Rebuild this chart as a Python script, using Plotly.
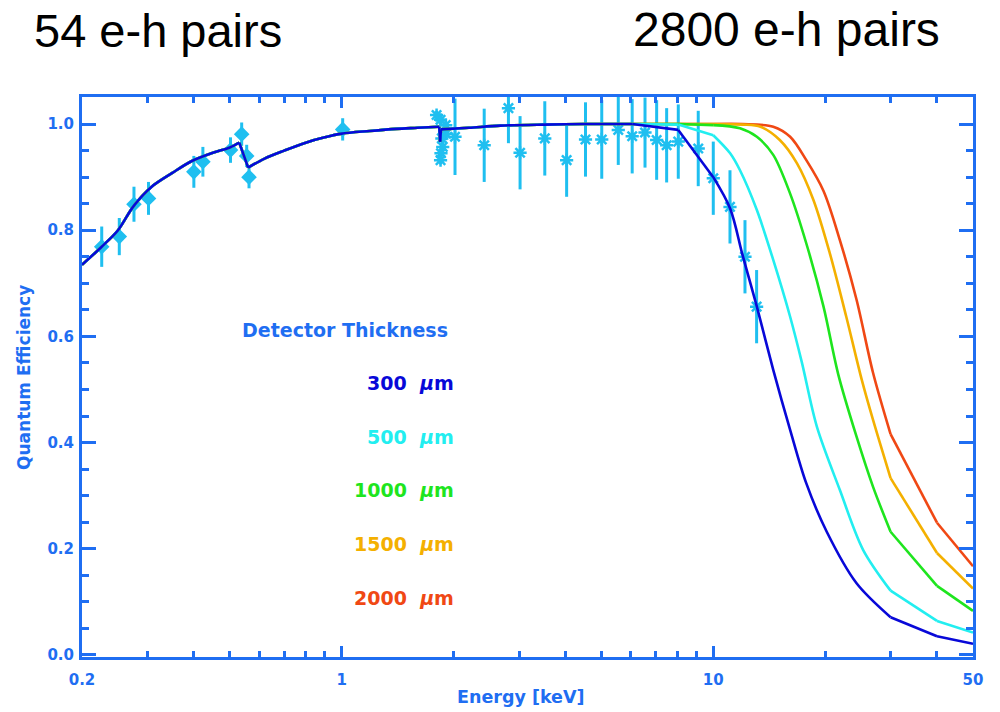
import plotly.graph_objects as go

# ---- model curves: quantum efficiency vs photon energy (keV) ----
# common low-energy response (entrance window), identical for all thicknesses
e_low = [0.2, 0.226, 0.25, 0.275, 0.308, 0.35, 0.394, 0.45, 0.50, 0.53, 0.56,
         0.62, 0.70, 0.80, 0.90, 1.0, 1.19, 1.4, 1.6, 1.83, 1.84, 1.85, 2.2,
         2.67, 3.5, 4.5]
qe_low = [0.735, 0.769, 0.80, 0.845, 0.882, 0.908, 0.930, 0.946, 0.956, 0.965,
          0.918, 0.935, 0.950, 0.965, 0.975, 0.982, 0.987, 0.991, 0.993, 0.995,
          0.967, 0.990, 0.993, 0.997, 0.999, 1.0]

# high-energy roll-off for each depletion depth
e_300 = [6.05, 8.05, 10.0, 11.1, 12.0, 13.1, 14.5, 16.1, 17.8, 20.2, 24.3,
         30.0, 40.0, 50.0]
qe_300 = [1.0, 0.989, 0.900, 0.841, 0.752, 0.656, 0.537, 0.424, 0.323, 0.232,
          0.135, 0.071, 0.035, 0.021]

e_500 = [6.05, 8.05, 10.0, 11.1, 11.8, 13.1, 14.5, 16.1, 17.3, 19.0, 21.9,
         25.3, 30.0, 40.0, 50.0]
qe_500 = [1.0, 0.999, 0.979, 0.945, 0.913, 0.838, 0.744, 0.637, 0.552, 0.430,
          0.311, 0.198, 0.121, 0.064, 0.042]

e_1000 = [6.05, 8.05, 10.0, 11.8, 13.1, 14.5, 16.1, 17.8, 19.8, 21.7, 24.3,
          26.9, 30.0, 40.0, 50.0]
qe_1000 = [1.0, 1.0, 0.998, 0.992, 0.976, 0.942, 0.869, 0.775, 0.656, 0.528,
           0.411, 0.317, 0.232, 0.130, 0.083]

e_1500 = [6.05, 8.05, 10.0, 12.0, 13.4, 15.1, 16.8, 18.6, 20.6, 22.8, 25.1,
          26.9, 30.0, 40.0, 50.0]
qe_1500 = [1.0, 1.0, 1.0, 0.999, 0.995, 0.970, 0.926, 0.857, 0.756, 0.637,
           0.518, 0.443, 0.333, 0.192, 0.125]

e_2000 = [6.05, 8.05, 10.0, 12.0, 14.5, 16.1, 17.8, 19.8, 21.9, 24.3, 26.9,
          30.0, 40.0, 50.0]
qe_2000 = [1.0, 1.0, 1.0, 1.0, 0.995, 0.976, 0.932, 0.874, 0.782, 0.669,
           0.532, 0.416, 0.249, 0.167]

# energies where the model has a sharp corner (absorption edges, coarse grid)
corner_energies = [0.53, 0.56, 1.83, 1.84, 1.85, 6.05, 8.05, 10.0, 30.0, 40.0]

# ---- measurements ----
# low-energy calibration points
e_lo_meas = [0.226, 0.252, 0.276, 0.302, 0.400, 0.423, 0.502, 0.538, 0.555,
             0.563, 1.006]
qe_lo_meas = [0.769, 0.788, 0.849, 0.860, 0.910, 0.929, 0.951, 0.981, 0.940,
              0.900, 0.990]
err_lo_meas = [0.038, 0.035, 0.033, 0.031, 0.030, 0.028, 0.024, 0.022, 0.021,
               0.021, 0.021]

# higher-energy points
e_hi_meas = [1.80, 1.845, 1.905, 1.91, 1.86, 1.87, 1.85, 1.845,
             2.018, 2.418, 2.81, 3.02, 3.52, 4.03, 4.53, 5.01, 5.55, 6.05,
             6.55, 7.04, 7.49, 8.05, 9.11, 10.0, 11.09, 12.17, 13.08]
qe_hi_meas = [1.017, 1.008, 0.998, 0.982, 0.973, 0.957, 0.945, 0.932,
              0.976, 0.960, 1.030, 0.946, 0.973, 0.932, 0.971, 0.971, 0.989,
              0.977, 0.984, 0.970, 0.960, 0.967, 0.954, 0.898, 0.844, 0.750,
              0.656]
err_hi_meas = [0.008, 0.008, 0.008, 0.008, 0.008, 0.008, 0.008, 0.008,
               0.072, 0.069, 0.066, 0.069, 0.070, 0.069, 0.070, 0.074, 0.066,
               0.070, 0.066, 0.075, 0.070, 0.070, 0.071, 0.069, 0.069, 0.069,
               0.069]

thickness_labels = ["300", "500", "1000", "1500", "2000"]

AXIS_BLUE = "#1f6ef2"
DATA_CYAN = "#1fbff0"
curve_colors = {
    "300": "#0808d8",
    "500": "#22eef0",
    "1000": "#1ee51e",
    "1500": "#f4b000",
    "2000": "#f04814",
}
curves = {
    "300": (e_300, qe_300),
    "500": (e_500, qe_500),
    "1000": (e_1000, qe_1000),
    "1500": (e_1500, qe_1500),
    "2000": (e_2000, qe_2000),
}


def split_at_corners(xs, ys):
    """Cut a curve into pieces that are smooth between the corner energies."""
    pieces = []
    start = 0
    for i, x in enumerate(xs):
        if i > start and (x in corner_energies or i == len(xs) - 1):
            pieces.append((xs[start:i + 1], ys[start:i + 1]))
            start = i
    return pieces


fig = go.Figure()

# measured points (drawn underneath the model curves)
fig.add_trace(go.Scatter(
    x=e_lo_meas, y=qe_lo_meas, mode="markers",
    marker=dict(symbol="diamond", size=12, color=DATA_CYAN),
    error_y=dict(type="data", array=err_lo_meas, color=DATA_CYAN,
                 thickness=3, width=0),
    showlegend=False,
))
fig.add_trace(go.Scatter(
    x=e_hi_meas, y=qe_hi_meas, mode="markers",
    marker=dict(symbol="asterisk-open", size=11, color=DATA_CYAN,
                line=dict(color=DATA_CYAN, width=2.5)),
    error_y=dict(type="data", array=err_hi_meas, color=DATA_CYAN,
                 thickness=3, width=0),
    showlegend=False,
))

# model curves, thickest first so the thinner ones sit on top
for lab in reversed(thickness_labels):
    e_hi, qe_hi = curves[lab]
    for xs, ys in split_at_corners(e_low + e_hi, qe_low + qe_hi):
        fig.add_trace(go.Scatter(
            x=xs, y=ys, mode="lines",
            line=dict(color=curve_colors[lab], width=2.6, shape="spline",
                      smoothing=0.9),
            showlegend=False, hoverinfo="skip",
        ))

# ---- axes ----
x_major = [0.2, 1, 10, 50]
x_major_text = ["0.2", "1", "10", "50"]
x_minor = [0.3, 0.4, 0.5, 0.6, 0.7, 0.8, 0.9,
           2, 3, 4, 5, 6, 7, 8, 9, 20, 30, 40]

tick_font = dict(family="DejaVu Sans", size=15, color=AXIS_BLUE, weight="bold")

fig.update_xaxes(
    type="log", range=[-0.69897, 1.69897],
    tickmode="array", tickvals=x_major, ticktext=x_major_text,
    ticks="inside", ticklen=11, tickwidth=2.5, tickcolor=AXIS_BLUE,
    ticklabelstandoff=7,
    minor=dict(tickmode="array", tickvals=x_minor, ticks="inside",
               ticklen=6, tickwidth=2.5, tickcolor=AXIS_BLUE, showgrid=False),
    showline=True, linewidth=3, linecolor=AXIS_BLUE, mirror="ticks",
    showgrid=False, zeroline=False, tickfont=tick_font,
)
fig.update_yaxes(
    range=[-0.004, 1.051],
    tickmode="array", tickvals=[0.0, 0.2, 0.4, 0.6, 0.8, 1.0],
    ticktext=["0.0", "0.2", "0.4", "0.6", "0.8", "1.0"],
    ticks="inside", ticklen=14, tickwidth=2.5, tickcolor=AXIS_BLUE,
    ticklabelstandoff=2,
    minor=dict(dtick=0.05, tick0=0, ticks="inside", ticklen=7, tickwidth=2.5,
               tickcolor=AXIS_BLUE, showgrid=False),
    showline=True, linewidth=3, linecolor=AXIS_BLUE, mirror="ticks",
    showgrid=False, zeroline=False, tickfont=tick_font,
)

# ---- annotations ----
def px_x(px):
    return (px - 82) / 891.0


def px_y(py):
    return (657 - py) / 560.0


NBSP = "\u00a0"
ann = []
ann.append(dict(text="54 e-h pairs", x=px_x(32), y=px_y(31), xanchor="left",
                yanchor="middle",
                font=dict(family="Liberation Sans", size=47, color="black")))
ann.append(dict(text="2800 e-h pairs", x=px_x(942), y=px_y(29),
                xanchor="right", yanchor="middle",
                font=dict(family="Liberation Sans", size=48, color="black")))
ann.append(dict(text="Quantum Efficiency", x=px_x(24), y=px_y(378),
                textangle=-90, xanchor="center", yanchor="middle",
                font=dict(family="DejaVu Sans", size=17, color=AXIS_BLUE,
                          weight="bold")))
ann.append(dict(text="Energy [keV]", x=px_x(521), y=px_y(697),
                xanchor="center", yanchor="middle",
                font=dict(family="DejaVu Sans", size=17.5, color=AXIS_BLUE,
                          weight="bold")))
ann.append(dict(text="Detector Thickness", x=px_x(240), y=px_y(330),
                xanchor="left", yanchor="middle",
                font=dict(family="DejaVu Sans", size=19, color=AXIS_BLUE,
                          weight="bold")))
label_rows = [383, 437, 490, 544, 598]
for lab, row in zip(thickness_labels, label_rows):
    ann.append(dict(text=f"{lab}{NBSP}{NBSP}<i>\u03bc</i>m", x=px_x(456),
                    y=px_y(row), xanchor="right", yanchor="middle",
                    font=dict(family="DejaVu Sans", size=19,
                              color=curve_colors[lab], weight="bold")))
for a in ann:
    a.update(xref="paper", yref="paper", showarrow=False)

fig.update_layout(
    width=1000, height=712,
    margin=dict(l=82, r=27, t=97, b=55),
    paper_bgcolor="white", plot_bgcolor="white",
    annotations=ann,
    showlegend=False,
)

fig.write_html("out.html")
